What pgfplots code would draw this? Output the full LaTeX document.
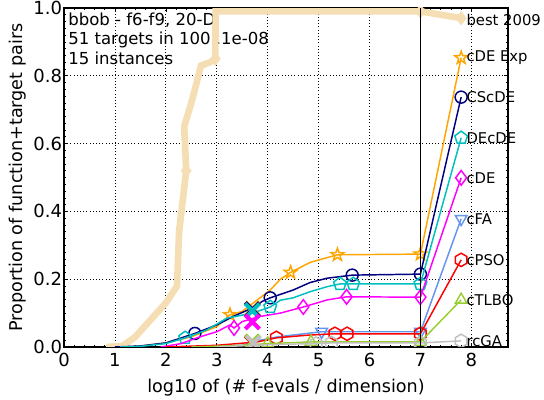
\documentclass[border=0pt]{standalone}
\usepackage{fontspec}
\setmainfont{DejaVu Sans}
\usepackage{pgfplots}
\pgfplotsset{compat=1.18}
\usetikzlibrary{plotmarks}

\definecolor{wheatc}{RGB}{245,222,179}
\definecolor{orangec}{RGB}{255,165,0}
\definecolor{navyc}{RGB}{0,0,128}
\definecolor{cyanc}{RGB}{0,191,191}
\definecolor{magc}{RGB}{255,0,255}
\definecolor{cfac}{RGB}{100,149,237}
\definecolor{redc}{RGB}{255,0,0}
\definecolor{greenc}{RGB}{154,205,50}
\definecolor{grayc}{RGB}{192,192,192}

% open hexagon, pointed at the top
\pgfdeclareplotmark{hexa}{%
  \pgfpathmoveto{\pgfpointpolar{90}{\pgfplotmarksize}}%
  \pgfpathlineto{\pgfpointpolar{150}{\pgfplotmarksize}}%
  \pgfpathlineto{\pgfpointpolar{210}{\pgfplotmarksize}}%
  \pgfpathlineto{\pgfpointpolar{270}{\pgfplotmarksize}}%
  \pgfpathlineto{\pgfpointpolar{330}{\pgfplotmarksize}}%
  \pgfpathlineto{\pgfpointpolar{30}{\pgfplotmarksize}}%
  \pgfpathclose\pgfusepathqstroke}
% open five-pointed star
\pgfdeclareplotmark{ostar}{%
  \pgfpathmoveto{\pgfpointpolar{90}{\pgfplotmarksize}}%
  \pgfpathlineto{\pgfpointpolar{126}{0.4\pgfplotmarksize}}%
  \pgfpathlineto{\pgfpointpolar{162}{\pgfplotmarksize}}%
  \pgfpathlineto{\pgfpointpolar{198}{0.4\pgfplotmarksize}}%
  \pgfpathlineto{\pgfpointpolar{234}{\pgfplotmarksize}}%
  \pgfpathlineto{\pgfpointpolar{270}{0.4\pgfplotmarksize}}%
  \pgfpathlineto{\pgfpointpolar{306}{\pgfplotmarksize}}%
  \pgfpathlineto{\pgfpointpolar{342}{0.4\pgfplotmarksize}}%
  \pgfpathlineto{\pgfpointpolar{18}{\pgfplotmarksize}}%
  \pgfpathlineto{\pgfpointpolar{54}{0.4\pgfplotmarksize}}%
  \pgfpathclose\pgfusepathqstroke}

\begin{document}
\begin{tikzpicture}[font=\fontsize{12.4}{14.3}\selectfont]
\begin{axis}[
  width=333pt, height=254.25pt, scale only axis,
  xmin=0, xmax=8.72, ymin=0, ymax=1,
  xtick={0,1,...,8}, ytick={0,0.2,0.4,0.6,0.8,1.0},
  minor x tick num=4, minor y tick num=9,
  tick align=inside, major tick length=3pt, minor tick length=1.5pt,
  tick style={black, line width=0.5pt},
  grid=major, major grid style={dotted, black, line width=0.6pt},
  tick label style={font=\fontsize{13.5}{15}\selectfont},
  label style={font=\fontsize{13.2}{15}\selectfont},
  yticklabel style={xshift=2pt, /pgf/number format/.cd, fixed, fixed zerofill, precision=1},
  xticklabel style={yshift=-1pt},
  /pgf/number format/assume math mode=true,
  xlabel={log10 of (\# f-evals / dimension)},
  ylabel={Proportion of function+target pairs},
  xlabel style={yshift=-2.5pt},
  ylabel style={yshift=-1.5pt},
  axis line style={black, line width=0.8pt},
  clip marker paths=true,
  every axis plot/.append style={line width=1.1pt, mark options={solid, line width=1.1pt}},
]

\node[anchor=north west, inner sep=0pt, align=left] at (axis cs:0.08,0.985)
  {bbob - f6-f9, 20-D\\51 targets in 100..1e-08\\15 instances};

% best 2009
\addplot[wheatc, line width=5pt, mark=diamond*, mark size=5pt,
  mark options={fill=wheatc, draw=wheatc, line width=0.5pt},
  mark indices={8,13,15,16}] coordinates {
  (0.83,0) (1.15,0.003) (1.4,0.03) (1.7,0.08) (2.0,0.13) (2.22,0.18)
  (2.26,0.34) (2.4,0.52) (2.36,0.65) (2.52,0.73) (2.69,0.83) (2.87,0.84)
  (2.97,0.85) (2.98,0.99) (7.0,0.99) (7.8,0.97)};

% cDE Exp
\addplot[orangec, mark=ostar, mark size=5pt, mark indices={6,11,13,14,15}] coordinates {
  (1.2,0) (1.5,0.003) (2.0,0.012) (2.5,0.03) (3.0,0.06) (3.26,0.095)
  (3.5,0.105) (3.85,0.145) (4.05,0.168) (4.25,0.2) (4.45,0.22) (4.84,0.25)
  (5.37,0.272) (7.0,0.274) (7.8,0.853)};

% CScDE
\addplot[navyc, mark=o, mark size=4.5pt, mark indices={4,9,13,14,15}] coordinates {
  (1.0,0) (1.5,0.003) (2.0,0.012) (2.57,0.04) (3.0,0.065) (3.32,0.09)
  (3.7,0.115) (3.9,0.135) (4.05,0.145) (4.5,0.168) (4.83,0.19) (5.17,0.203)
  (5.66,0.212) (7.0,0.215) (7.8,0.737)};

% DEcDE
\addplot[cyanc, mark=pentagon, mark size=5pt, mark indices={4,8,13,14,15,16}] coordinates {
  (1.1,0) (1.5,0.002) (2.0,0.01) (2.38,0.027) (2.8,0.05) (3.2,0.085)
  (3.7,0.1) (4.05,0.118) (4.25,0.138) (4.5,0.145) (4.83,0.163) (5.17,0.178)
  (5.42,0.186) (5.68,0.186) (7.0,0.186) (7.8,0.617)};

% cDE
\addplot[magc, mark=diamond, mark size=5.5pt, mark indices={6,10,12,13,14}] coordinates {
  (1.9,0) (2.3,0.01) (2.67,0.03) (3.0,0.045) (3.26,0.065) (3.34,0.056)
  (3.5,0.075) (3.85,0.09) (4.25,0.1) (4.7,0.118) (5.17,0.139) (5.55,0.148)
  (7.0,0.147) (7.8,0.499)};

% cFA
\addplot[cfac, mark=triangle, mark size=5pt, mark options={rotate=180},
  mark indices={5,6,7}] coordinates {
  (2.5,0) (3.5,0.005) (3.85,0.02) (4.2,0.03) (5.06,0.045) (7.0,0.045)
  (7.8,0.378)};

% cPSO
\addplot[redc, mark=hexa, mark size=5pt, mark indices={4,6,7,8,9}] coordinates {
  (2.0,0) (3.0,0.005) (3.8,0.015) (4.17,0.027) (4.8,0.035) (5.32,0.039)
  (5.56,0.039) (7.0,0.039) (7.8,0.257)};

% cTLBO
\addplot[greenc, mark=triangle, mark size=5pt, mark indices={3,4,5,6}] coordinates {
  (2.5,0) (3.5,0.005) (4.0,0.01) (4.85,0.015) (7.0,0.015) (7.8,0.139)};

% rcGA
\addplot[grayc, mark=hexa, mark size=5pt, mark indices={4,5,6,7}] coordinates {
  (3.0,0) (3.7,0.005) (4.3,0.008) (4.95,0.01) (5.25,0.012) (7.0,0.012)
  (7.8,0.018)};

% median of the maximal budget, one cross per algorithm
\addplot[only marks, mark=x, mark size=7.5pt, orangec, mark options={line width=3pt}] coordinates {(3.7,0.112)};
\addplot[only marks, mark=x, mark size=7.5pt, navyc, mark options={line width=3pt}] coordinates {(3.7,0.11)};
\addplot[only marks, mark=x, mark size=7.5pt, cyanc, mark options={line width=3pt}] coordinates {(3.7,0.107)};
\addplot[only marks, mark=x, mark size=7.5pt, magc, mark options={line width=3pt}] coordinates {(3.7,0.074)};
\addplot[only marks, mark=x, mark size=7.5pt, cfac, mark options={line width=3pt}] coordinates {(3.7,0.012)};
\addplot[only marks, mark=x, mark size=7.5pt, redc, mark options={line width=3pt}] coordinates {(3.7,0.012)};
\addplot[only marks, mark=x, mark size=7.5pt, greenc, mark options={line width=3pt}] coordinates {(3.7,0.015)};
\addplot[only marks, mark=x, mark size=7.5pt, grayc, mark options={line width=3pt}] coordinates {(3.72,0.012)};

% end of the budget
\addplot[black, line width=0.8pt] coordinates {(7,0) (7,1)};

% anchors for the algorithm names at the right end of each curve
\coordinate (l0) at (axis cs:7.9,0.965);
\coordinate (l1) at (axis cs:7.9,0.853);
\coordinate (l2) at (axis cs:7.9,0.737);
\coordinate (l3) at (axis cs:7.9,0.617);
\coordinate (l4) at (axis cs:7.9,0.499);
\coordinate (l5) at (axis cs:7.9,0.378);
\coordinate (l6) at (axis cs:7.9,0.257);
\coordinate (l7) at (axis cs:7.9,0.139);
\coordinate (l8) at (axis cs:7.9,0.018);
\end{axis}
\begin{scope}[font=\fontsize{11.1}{13}\selectfont]
\node[anchor=west, inner sep=0pt] at (l0) {best 2009};
\node[anchor=west, inner sep=0pt] at (l1) {cDE Exp};
\node[anchor=west, inner sep=0pt] at (l2) {CScDE};
\node[anchor=west, inner sep=0pt] at (l3) {DEcDE};
\node[anchor=west, inner sep=0pt] at (l4) {cDE};
\node[anchor=west, inner sep=0pt] at (l5) {cFA};
\node[anchor=west, inner sep=0pt] at (l6) {cPSO};
\node[anchor=west, inner sep=0pt] at (l7) {cTLBO};
\node[anchor=west, inner sep=0pt] at (l8) {rcGA};
\end{scope}
% page frame: fixed margins around the axis
\pgfresetboundingbox
\path[use as bounding box] ([shift={(-48pt,-39.75pt)}]current axis.south west)
  rectangle ([shift={(27pt,6pt)}]current axis.north east);
\end{tikzpicture}
\end{document}
